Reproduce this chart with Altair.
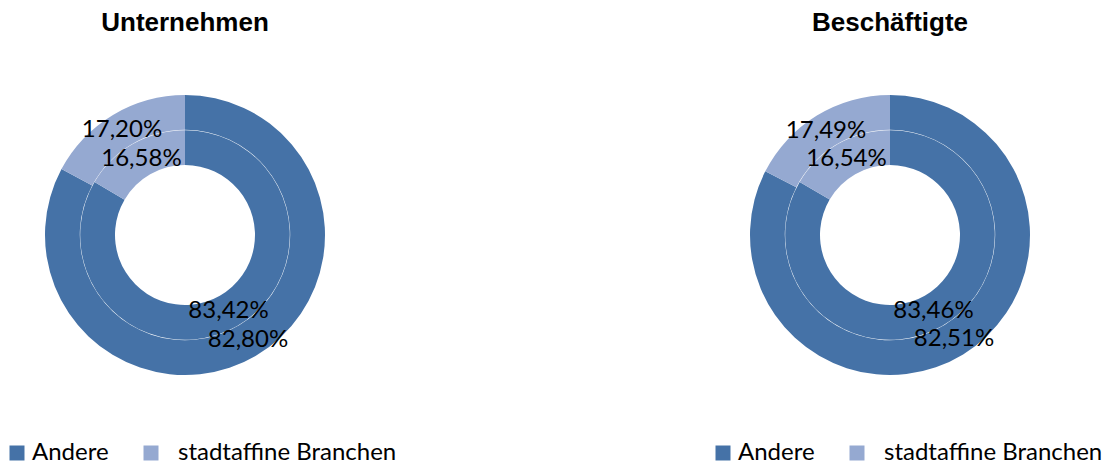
import altair as alt
import pandas as pd

titles = ["Unternehmen", "Beschäftigte"]
categories = ["Andere", "stadtaffine Branchen"]
unternehmen_outer = [82.80, 17.20]
unternehmen_inner = [83.42, 16.58]
beschaeftigte_outer = [82.51, 17.49]
beschaeftigte_inner = [83.46, 16.54]
colors = ["#4572A7", "#95A9D1"]

LABEL_FONT = "Lato"
TITLE_FONT = "Liberation Sans"


def make_df(outer, inner):
    rows = []
    for ring, vals in (("outer", outer), ("inner", inner)):
        for i, (c, v) in enumerate(zip(categories, vals)):
            rows.append({
                "ring": ring,
                "category": c,
                "idx": i,
                "value": v,
                "label": f"{v:.2f}".replace(".", ",") + "%",
            })
    return pd.DataFrame(rows)


def donut(title, outer, inner, cx, cy, legend_x):
    df = make_df(outer, inner)
    color = alt.Color(
        "category:N",
        scale=alt.Scale(domain=categories, range=colors),
        legend=alt.Legend(
            title=None,
            orient="none",
            legendX=legend_x,
            legendY=433,
            direction="horizontal",
            symbolType="square",
            symbolSize=225,
            symbolStrokeWidth=0,
            symbolOpacity=1,
            labelFont=LABEL_FONT,
            labelFontSize=24,
            labelColor="black",
            labelOffset=3,
            columnPadding=30,
            padding=0,
            labelLimit=400,
            labelExpr="datum.label == 'stadtaffine Branchen' ? '\u200b\u2002stadtaffine Branchen' : datum.label",
        ),
    )
    base = alt.Chart(df).encode(
        theta=alt.Theta("value:Q", stack=True),
        order=alt.Order("idx:Q"),
        x=alt.value(cx),
        y=alt.value(cy),
    )
    outer_arc = base.transform_filter(alt.datum.ring == "outer").mark_arc(
        radius=140, radius2=105.2
    ).encode(color=color)
    inner_arc = base.transform_filter(alt.datum.ring == "inner").mark_arc(
        radius=104.8, radius2=70
    ).encode(color=color)
    outer_txt = base.transform_filter(alt.datum.ring == "outer").mark_text(
        radius=122.5, font=LABEL_FONT, fontSize=24, color="black", baseline="middle"
    ).encode(text="label:N")
    inner_txt = base.transform_filter(alt.datum.ring == "inner").mark_text(
        radius=87.5, font=LABEL_FONT, fontSize=24, color="black", baseline="middle"
    ).encode(text="label:N")
    ttl = alt.Chart(pd.DataFrame({"t": [title]})).mark_text(
        font=TITLE_FONT, fontSize=26, fontWeight="bold", color="black",
        baseline="alphabetic", align="center"
    ).encode(text="t:N", x=alt.value(cx), y=alt.value(23))
    return alt.layer(outer_arc, inner_arc, outer_txt, inner_txt, ttl)


left = donut(titles[0], unternehmen_outer, unternehmen_inner, 177, 227, -3)
right = donut(titles[1], beschaeftigte_outer, beschaeftigte_inner, 882, 227, 703)

chart = alt.layer(left, right).resolve_scale(color="independent").properties(
    width=1098, height=456, padding=0, autosize=alt.AutoSizeParams(type="none")
).configure_view(stroke=None)

chart.save("out.html", embed_options={"renderer": "svg", "actions": False})
